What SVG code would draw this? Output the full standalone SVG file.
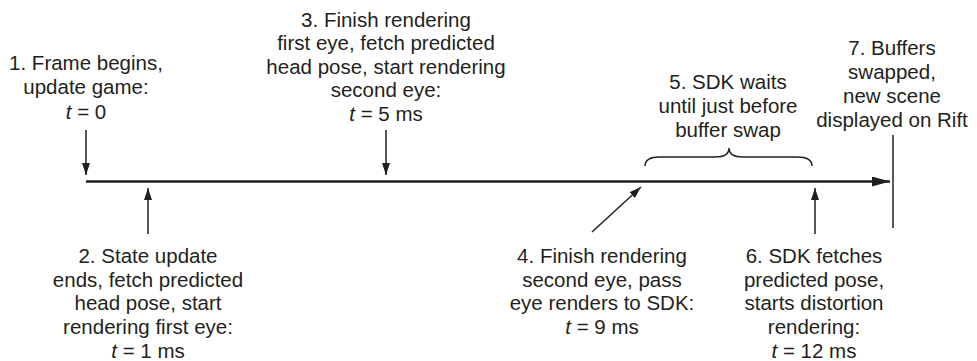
<svg xmlns="http://www.w3.org/2000/svg" width="977" height="361" viewBox="0 0 977 361">
<style>
text{font-family:"Liberation Sans",Arial,sans-serif;font-size:20.5px;fill:#231f20;text-anchor:middle}
.ln{stroke:#231f20;stroke-width:1.5;fill:none}
.it{font-style:italic}
</style>
<defs>
<marker id="ah" viewBox="0 0 12 8" refX="12" refY="4" markerWidth="12" markerHeight="8" markerUnits="userSpaceOnUse" orient="auto">
<path d="M0,0 L12,4 L0,8 Z" fill="#231f20"/>
</marker>
<marker id="ahm" viewBox="0 0 18 10" refX="18" refY="5" markerWidth="18" markerHeight="10" markerUnits="userSpaceOnUse" orient="auto">
<path d="M0,0 L18,5 L0,10 Z" fill="#231f20"/>
</marker>
</defs>
<g id="connectors">
<line x1="86" y1="181.5" x2="890" y2="181.5" stroke="#231f20" stroke-width="2.5" marker-end="url(#ahm)"/>
<line class="ln" x1="893" y1="135" x2="893" y2="228"/>
<line class="ln" x1="86" y1="130" x2="86" y2="175" marker-end="url(#ah)"/>
<line class="ln" x1="386" y1="130" x2="386" y2="175" marker-end="url(#ah)"/>
<line class="ln" x1="148" y1="234" x2="148" y2="188" marker-end="url(#ah)"/>
<line class="ln" x1="592" y1="232" x2="641" y2="187" marker-end="url(#ah)"/>
<line class="ln" x1="815" y1="234" x2="815" y2="188" marker-end="url(#ah)"/>
<path class="ln" d="M645,166 Q645,157 660,157 L715,157 Q729,157 729,148 Q729,157 743,157 L797,157 Q812,157 812,166"/>
</g>
<g id="n1"><text x="86" y="70">1. Frame begins,</text><text x="86" y="94">update game:</text><text x="86" y="119"><tspan class="it">t</tspan> = 0</text></g>
<g id="n2"><text x="148" y="263">2. State update</text><text x="148" y="287">ends, fetch predicted</text><text x="148" y="310">head pose, start</text><text x="148" y="334">rendering first eye:</text><text x="148" y="358"><tspan class="it">t</tspan> = 1 ms</text></g>
<g id="n3"><text x="386" y="27">3. Finish rendering</text><text x="386" y="50">first eye, fetch predicted</text><text x="386" y="74">head pose, start rendering</text><text x="386" y="97">second eye:</text><text x="386" y="121"><tspan class="it">t</tspan> = 5 ms</text></g>
<g id="n4"><text x="602" y="263">4. Finish rendering</text><text x="602" y="287">second eye, pass</text><text x="602" y="310">eye renders to SDK:</text><text x="602" y="334"><tspan class="it">t</tspan> = 9 ms</text></g>
<g id="n5"><text x="728" y="89">5. SDK waits</text><text x="728" y="113">until just before</text><text x="728" y="137">buffer swap</text></g>
<g id="n6"><text x="814" y="263">6. SDK fetches</text><text x="814" y="287">predicted pose,</text><text x="814" y="310">starts distortion</text><text x="814" y="334">rendering:</text><text x="814" y="358"><tspan class="it">t</tspan> = 12 ms</text></g>
<g id="n7"><text x="892" y="55">7. Buffers</text><text x="892" y="79">swapped,</text><text x="892" y="103">new scene</text><text x="892" y="127">displayed on Rift</text></g>
</svg>
